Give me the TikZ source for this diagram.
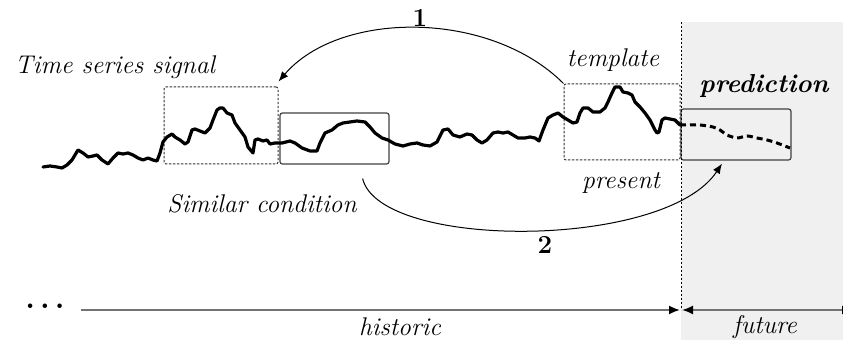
\documentclass[tikz,border=0pt]{standalone}
\usetikzlibrary{arrows.meta}
\begin{document}
\begin{tikzpicture}[x=0.5pt,y=-0.5pt,
  every node/.style={font=\fontsize{12.5}{15}\selectfont},
  signal/.style={line width=1.6pt,line join=round,line cap=round},
  predsig/.style={line width=1.5pt,dash pattern=on 3pt off 2pt},
  dotbox/.style={draw=black!80,dash pattern=on 1.2pt off 0.8pt,line width=0.5pt,rounded corners=1pt,inner sep=0pt},
  solidbox/.style={draw=black!75,line width=0.6pt,rounded corners=1.2pt,inner sep=0pt},
  lab/.style={font=\fontsize{12.8}{15}\selectfont\itshape},
  num/.style={font=\fontsize{13}{15}\selectfont\bfseries},
  arr/.style={line width=0.5pt,-{Latex[length=5pt,width=4pt]}},
  axis/.style={draw=black!55,line width=0.9pt},
  axtip/.tip={Latex[length=5.5pt,width=4.5pt,color=black]}
]
\useasboundingbox (0,0) rectangle (843,340);
% future region
\fill[black!6] (681,22) rectangle (843,340);
% boxes
\node[dotbox,minimum width=57pt,minimum height=38.5pt] (sim) at (221,125.5) {};
\node[solidbox,minimum width=54.5pt,minimum height=25.5pt] (cond) at (334.5,138.5) {};
\node[dotbox,minimum width=58pt,minimum height=38pt] (tmpl) at (622,122) {};
\node[solidbox,minimum width=55pt,minimum height=25.5pt] (pred) at (736,134.5) {};
% divider
\coordinate (vtop) at (681,22);
\coordinate (axL) at (81,310);
\coordinate (axM) at (681,310);
\coordinate (axR) at (853,310);
\draw[dash pattern=on 1.2pt off 0.8pt,line width=0.5pt] (vtop) -- (axM);
% signal
\draw[signal] plot coordinates {(43,167)(50,166)(57,167)(62,168)(67,165)(72,160)(78,150)(83,153)(88,157)(93,156)(97,155)(102,160)(108,164)(113,158)(118,153)(123,154)(128,153)(133,155)(138,158)(143,160)(148,158)(153,160)(157,161)(160,153)(163,142)(167,137)(172,134)(175,137)(180,140)(185,144)(188,142)(192,130)(195,129)(200,131)(205,133)(210,128)(213,120)(217,110)(220,108)(223,108)(227,113)(232,115)(235,123)(240,130)(245,137)(248,147)(253,153)(255,140)(258,139)(263,141)(267,140)(270,144)(275,143)(282,143)(290,141)(295,143)(302,148)(310,151)(317,151)(320,143)(325,133)(332,130)(338,125)(343,123)(350,122)(357,121)(365,122)(370,127)(375,133)(382,138)(388,140)(395,144)(403,146)(410,144)(417,143)(423,145)(430,146)(437,142)(443,130)(448,129)(453,135)(460,137)(467,134)(472,135)(477,140)(482,143)(487,140)(493,133)(498,132)(503,133)(508,132)(513,135)(518,138)(525,138)(530,137)(535,138)(539,141)(543,130)(548,118)(553,115)(558,113)(563,117)(568,120)(573,123)(577,122)(580,113)(583,108)(588,108)(593,112)(600,112)(605,108)(608,102)(612,93)(615,87)(620,87)(623,92)(628,93)(632,95)(635,102)(640,107)(645,113)(650,120)(655,130)(657,133)(659,132)(662,120)(665,118)(670,119)(675,120)(680,125)};
\draw[predsig] plot[smooth] coordinates {(680,125)(685,125)(700,125)(713,127)(720,130)(727,135)(737,138)(747,136)(757,138)(767,140)(777,143)(790,148)};
% arrows
\draw[arr] (tmpl.north west) .. controls (490,10) and (340,10) .. ([yshift=2.5pt]sim.north east);
\draw[arr] ([xshift=-13.5pt,yshift=-7pt]cond.south east) .. controls (380,250) and (665,250) .. ([xshift=-7pt,yshift=-1.5pt]pred.south);
% labels
\node[num] (n1) at (420,18) {1};
\node[num] (n2) at (545,245) {2};
\node[lab] (tss) at (115,67) {Time series signal};
\node[lab] (ttmp) at (613,60) {template};
\node[font=\fontsize{13}{15}\selectfont\bfseries\itshape] (tpred) at (764,86) {prediction};
\node[lab] (tpres) at (621,183) {present};
\node[lab] (tsim) at (262,204) {Similar condition};
% axis
\draw[axis,-axtip] (axL) -- ([xshift=-0.5pt]axM);
\draw[axis,axtip-axtip] ([xshift=0.5pt]axM) -- (axR);
\node[font=\fontsize{15}{18}\selectfont\boldmath] (dots) at (45,306) {$\dots$};
\node[lab] (thist) at (400,327) {historic};
\node[lab] (tfut) at (765,327) {future};
\end{tikzpicture}
\end{document}
